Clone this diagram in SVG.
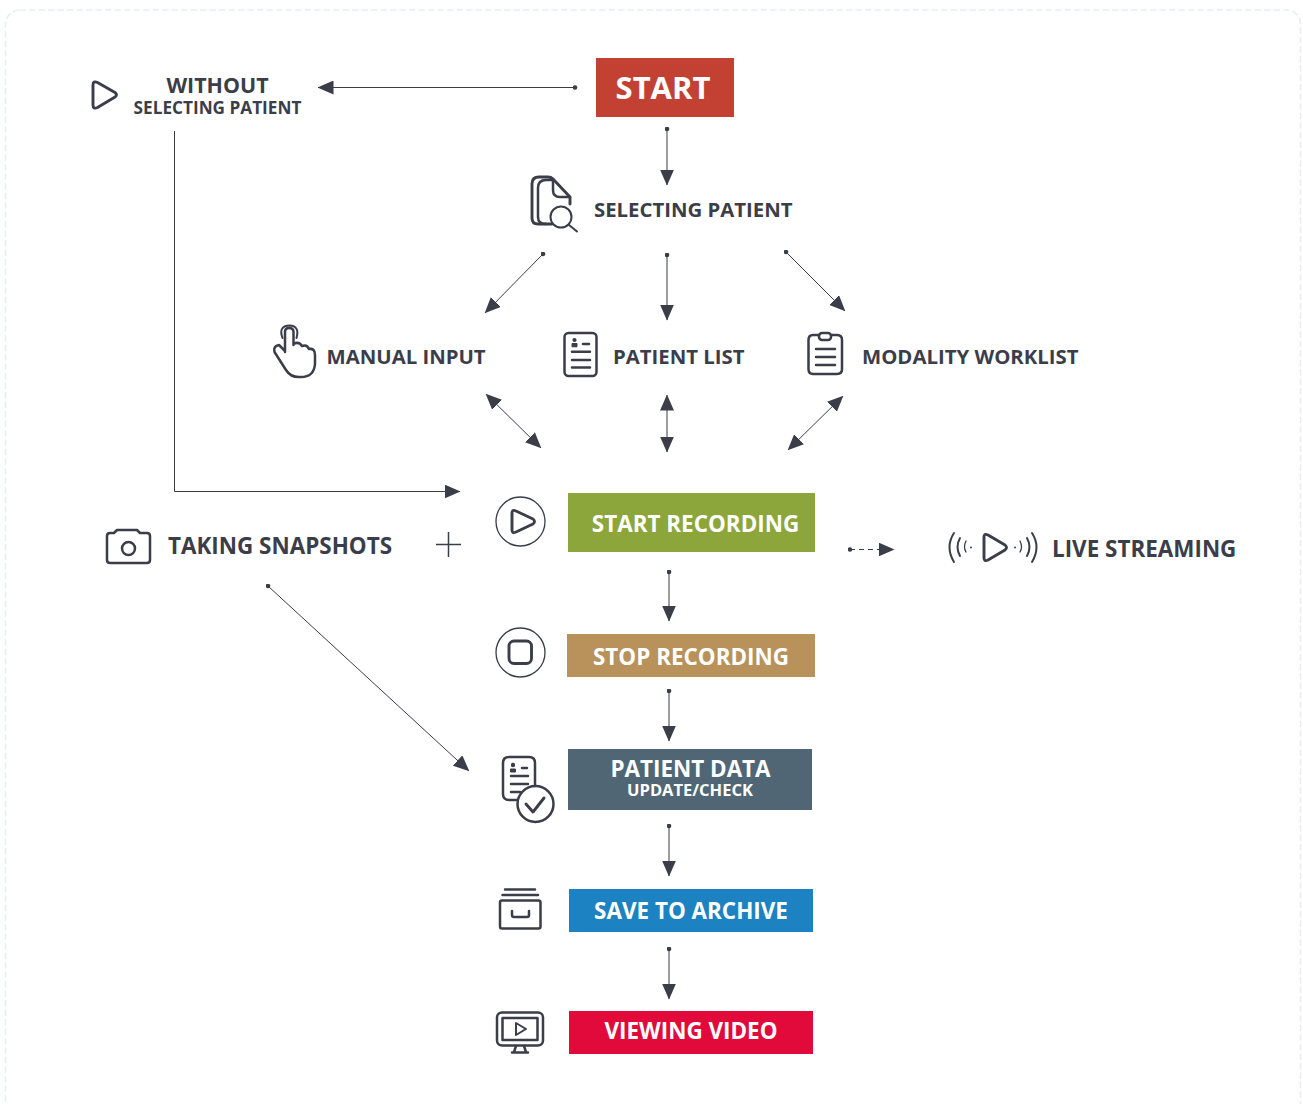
<svg xmlns="http://www.w3.org/2000/svg" width="1303" height="1104" viewBox="0 0 1303 1104">
<style>
text{font-family:"Open Sans","Liberation Sans",sans-serif;font-weight:700;fill:#3b3d49}
.w{fill:#fff;text-anchor:middle}
.m{text-anchor:middle}
.i{fill:none;stroke:#3b3d49;stroke-width:2.5;stroke-linecap:round;stroke-linejoin:round}
.b{stroke-width:2.9}
.n{stroke-width:2}
.t{stroke-width:1.3}
.c{fill:none;stroke:#3b3d49;stroke-width:1}
.p{stroke-width:1.5}
</style>
<defs>
<marker id="a" viewBox="0 0 16 14" refX="15.500" refY="7" markerWidth="16" markerHeight="14" markerUnits="userSpaceOnUse" orient="auto-start-reverse"><path d="M0 0L16 7L0 14Z" fill="#3b3d49"/></marker>
<marker id="d" viewBox="0 0 5 5" refX="2.500" refY="2.500" markerWidth="5" markerHeight="5" markerUnits="userSpaceOnUse"><circle cx="2.500" cy="2.500" r="2.300" fill="#3b3d49"/></marker>
</defs>
<rect x="5.500" y="10" width="1295" height="1110" rx="14" fill="none" stroke="#e6eef2" stroke-width="1.600" stroke-dasharray="6.500 3"/>
<g id="connectors">
<path class="c" d="M575 87.500H318" marker-start="url(#d)" marker-end="url(#a)"/>
<path class="c" d="M667 129V185" marker-start="url(#d)" marker-end="url(#a)"/>
<path class="c" d="M543 254L485 313" marker-start="url(#d)" marker-end="url(#a)"/>
<path class="c" d="M667 255V320" marker-start="url(#d)" marker-end="url(#a)"/>
<path class="c" d="M786 252L845 311" marker-start="url(#d)" marker-end="url(#a)"/>
<path class="c" d="M486 394L541 448" marker-start="url(#a)" marker-end="url(#a)"/>
<path class="c" d="M667 395V452" marker-start="url(#a)" marker-end="url(#a)"/>
<path class="c" d="M843 396L788 450" marker-start="url(#a)" marker-end="url(#a)"/>
<path class="c" d="M174.500 131V491.500H460" marker-end="url(#a)"/>
<path class="c" d="M268 586L469 771" marker-start="url(#d)" marker-end="url(#a)"/>
<path class="c" d="M850 549.500H894" stroke-dasharray="5 4" marker-start="url(#d)" marker-end="url(#a)"/>
<path class="c" d="M669 572V621" marker-start="url(#d)" marker-end="url(#a)"/>
<path class="c" d="M669 691V741" marker-start="url(#d)" marker-end="url(#a)"/>
<path class="c" d="M669 826V876" marker-start="url(#d)" marker-end="url(#a)"/>
<path class="c" d="M669 949V999" marker-start="url(#d)" marker-end="url(#a)"/>
</g>
<g id="start"><rect x="596" y="58" width="138" height="59" fill="#c24132"/><text class="w" x="663" y="99" font-size="31">START</text></g>
<g id="without">
<path class="i b" d="M93 85Q93 80.500 97.500 82.500L115 92.500Q118 94.800 115 97L97.500 107.500Q93 109.500 93 105Z"/>
<text class="m" x="217.500" y="93" font-size="21.400">WITHOUT</text>
<text class="m" x="217.500" y="114" font-size="17.200">SELECTING PATIENT</text>
</g>
<g id="selecting-patient">
<path class="i b" d="M552 224H538Q532 224 532 218V184Q532 177 539 177H548Q551 177 553 179L570 197V204"/>
<path class="i" d="M546 224Q538 224 538 217V188Q538 180 546 180H552"/>
<path class="i" d="M553 179V190Q553 197 560 197H570"/>
<circle class="i n" cx="561" cy="217" r="10.500"/>
<path class="i n" d="M569 225L577 231.500"/>
<text x="594" y="217" font-size="20.350">SELECTING PATIENT</text>
</g>
<g id="manual-input">
<path class="i" d="M285 352V332Q285 328 289 328Q293.500 328 293.500 332V345M293.500 344Q299 341 302 346M302 346Q307 344 309 349M309 349Q315 348 315 355V364Q314 377 301 377Q291 378 286 370L274.500 352Q273 346 279 345L285 351"/>
<path class="i n" d="M282.500 338Q278 326 289.500 325.500Q300 326 296.500 338"/>
<text x="326.500" y="364" font-size="20.350">MANUAL INPUT</text>
</g>
<g id="patient-list">
<rect class="i" x="564.500" y="333" width="32" height="43" rx="4"/>
<circle cx="574.500" cy="340" r="2.100" fill="#3b3d49"/><path d="M572 346.800V343.500H577V346.800Z" fill="#3b3d49" stroke="#3b3d49"/>
<path class="i" d="M583 344H589M572 351.700H590M572 360H590M572 367.500H590"/>
<text x="613" y="364" font-size="20.350">PATIENT LIST</text>
</g>
<g id="modality-worklist">
<path class="i" d="M819 335H813Q808.500 335 808.500 340V369Q808.500 374 813 374H837Q842 374 842 369V340Q842 335 837 335H831"/>
<rect class="i" x="819" y="333" width="12" height="7" rx="3"/>
<path class="i" d="M816 349H835M816 357H835M816 365H835"/>
<text x="862" y="364" font-size="20.350">MODALITY WORKLIST</text>
</g>
<g id="start-recording">
<circle class="i t" cx="520.500" cy="521.500" r="24.500"/>
<path class="i b" d="M512 513Q512 509 516 511L533 519Q536 521.500 533 524L516 532Q512 534 512 530Z"/>
<rect x="568" y="493" width="247" height="59" fill="#8ca63b"/>
<text class="w" x="695.500" y="531.500" font-size="22.450">START RECORDING</text>
</g>
<g id="taking-snapshots">
<path class="i" d="M114 533H110Q107 533 107 536V560Q107 563 110 563H147Q150 563 150 560V536Q150 533 147 533H140L137 530H117Z"/>
<circle class="i" cx="128.500" cy="548.500" r="6.500"/>
<text x="168" y="553.500" font-size="22.450">TAKING SNAPSHOTS</text>
<path class="c p" d="M436 544.500H461M448.500 532V557"/>
</g>
<g id="live-streaming">
<path class="i n" d="M954 533Q945 547 954 562M960 538Q955 547 960 556"/>
<path class="i t" d="M966 541Q963 547 966 552"/>
<circle cx="971" cy="547.500" r="1" fill="#3b3d49"/>
<path class="i b" d="M984 537Q984 533 988 535L1005 545Q1008 547.500 1005 550L988 560Q984 562 984 558Z"/>
<circle cx="1015" cy="547.500" r="1" fill="#3b3d49"/>
<path class="i t" d="M1020 541Q1023 547 1020 552"/>
<path class="i n" d="M1027 538Q1032 547 1027 556M1032 533Q1041 547 1032 562"/>
<text x="1052" y="556.500" font-size="22.450">LIVE STREAMING</text>
</g>
<g id="stop-recording">
<circle class="i t" cx="520.500" cy="652.500" r="24.500"/>
<rect class="i b" x="509" y="641" width="22.500" height="22.500" rx="5"/>
<rect x="567" y="634" width="248" height="43" fill="#b8915b"/>
<text class="w" x="691" y="665" font-size="22.450">STOP RECORDING</text>
</g>
<g id="patient-data">
<path class="i" d="M517 800H509Q503 800 503 794V763Q503 757 509 757H529Q535 757 535 763V786"/>
<circle cx="513" cy="765" r="2.200" fill="#3b3d49"/><path d="M510.500 772V769H515.500V772Z" fill="#3b3d49" stroke="#3b3d49"/>
<path class="i" d="M522 768H527M511 776H528M511 784H528M511 792H520"/>
<circle class="i" cx="535.500" cy="804" r="18"/>
<path class="i b" d="M526 804L533 812L544 798"/>
<rect x="568" y="749" width="244" height="61" fill="#506674"/>
<text class="w" x="690.500" y="776.500" font-size="22.450">PATIENT DATA</text>
<text class="w" x="690" y="795.500" font-size="16.500">UPDATE/CHECK</text>
</g>
<g id="save-to-archive">
<path class="i" d="M505 889.500H535M502.500 895H538"/>
<rect class="i" x="500" y="900.500" width="40.500" height="28" rx="2"/>
<path class="i" d="M512 911V915Q512 917 514 917H527Q529 917 529 915V911"/>
<rect x="569" y="889" width="244" height="43" fill="#1c82c1"/>
<text class="w" x="691" y="919" font-size="22.450">SAVE TO ARCHIVE</text>
</g>
<g id="viewing-video">
<rect class="i" x="497" y="1012.500" width="46" height="33" rx="5"/>
<rect class="i" x="502.500" y="1018" width="35" height="22"/>
<path class="i n" d="M516 1023V1035L526 1029Z"/>
<path class="i" d="M516 1046L514 1052M524 1046L526 1052M512 1052.500H528"/>
<rect x="569" y="1011" width="244" height="43" fill="#e10a3b"/>
<text class="w" x="691" y="1039" font-size="22.450">VIEWING VIDEO</text>
</g>
</svg>
